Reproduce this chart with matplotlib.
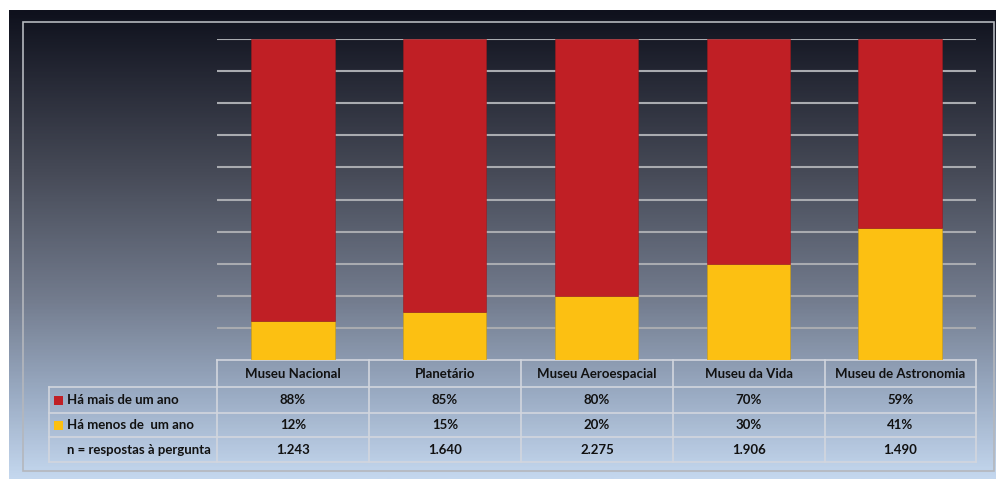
import numpy as np
import matplotlib
matplotlib.use("Agg")
import matplotlib.pyplot as plt
from matplotlib.colors import LinearSegmentedColormap
from matplotlib.patches import Rectangle
from matplotlib.lines import Line2D

categories = ["Museu Nacional", "Planetário", "Museu Aeroespacial", "Museu da Vida", "Museu de Astronomia"]
series_names = ["Há mais de um ano", "Há menos de  um ano"]
mais_de_um_ano = [88, 85, 80, 70, 59]
menos_de_um_ano = [12, 15, 20, 30, 41]
n_respostas = ["1.243", "1.640", "2.275", "1.906", "1.490"]
n_label = "n = respostas à pergunta"

RED = "#c01f25"
YEL = "#fcc012"

W, H = 996, 479
fig = plt.figure(figsize=(W / 100, H / 100), dpi=100)
fig.patch.set_facecolor("white")

def fx(x):
    return x / W

def fy(y):
    return 1 - y / H

# gradient background
bg = fig.add_axes([fx(9), 0, fx(996) - fx(9), fy(10)])
cmap = LinearSegmentedColormap.from_list(
    "bg", [(0, "#0f111d"), (0.35, "#474b58"), (0.62, "#737c8e"), (0.82, "#9aabc3"), (1.0, "#c4d7ee")])
grad = np.linspace(0, 1, 400).reshape(-1, 1)
bg.imshow(grad, aspect="auto", cmap=cmap, extent=[0, 1, 0, 1], origin="upper")
bg.set_axis_off()

# overlay axes in pixel coordinates for frame and table
ov = fig.add_axes([0, 0, 1, 1], facecolor="none")
ov.set_xlim(0, W)
ov.set_ylim(H, 0)
ov.set_axis_off()
ov.add_patch(Rectangle((23, 22), 994 - 23, 471 - 22, fill=False, edgecolor="#b4b7bd", lw=1.2))

# chart axes
ax = fig.add_axes([fx(217), fy(360), fx(976) - fx(217), fy(39) - fy(360)])
ax.set_facecolor("none")
x = np.arange(len(categories))
ax.bar(x, menos_de_um_ano, width=0.55, color=YEL, edgecolor="#c89a10", linewidth=0.4, zorder=3)
ax.bar(x, mais_de_um_ano, bottom=menos_de_um_ano, width=0.55, color=RED, edgecolor="#9a1a1e",
       linewidth=0.4, zorder=3)
ax.set_xlim(-0.5, len(categories) - 0.5)
ax.set_ylim(0, 100)
for v in range(10, 101, 10):
    ax.axhline(v, color="#a9abb0", lw=1.5, zorder=1)
for s in ax.spines.values():
    s.set_visible(False)
ax.set_xticks([])
ax.set_yticks([])

# table
col_edges = [217, 369, 521, 673, 825, 976]
row_edges = [360, 387, 413, 437, 462]
line_c = "#d2d6de"
lw = 1.2
# horizontal lines
ov.add_line(Line2D([217, 976], [row_edges[0]] * 2, color=line_c, lw=lw))
for y in row_edges[1:]:
    ov.add_line(Line2D([49, 976], [y, y], color=line_c, lw=lw))
# vertical lines
for xe in col_edges:
    ov.add_line(Line2D([xe, xe], [row_edges[0], row_edges[-1]], color=line_c, lw=lw))
ov.add_line(Line2D([49, 49], [row_edges[1], row_edges[-1]], color=line_c, lw=lw))

fp = dict(family=["Lato", "DejaVu Sans"], fontsize=9.5, fontweight="bold", color="#111111")
rows = [
    [c for c in categories],
    [f"{v}%" for v in mais_de_um_ano],
    [f"{v}%" for v in menos_de_um_ano],
    n_respostas,
]
for r, vals in enumerate(rows):
    yc = (row_edges[r] + row_edges[r + 1]) / 2
    for c, txt in enumerate(vals):
        xc = (col_edges[c] + col_edges[c + 1]) / 2
        ov.text(xc, yc, txt, ha="center", va="center", **fp)

# row labels with legend keys
for r, (name, col) in enumerate(zip(series_names, [RED, YEL])):
    yc = (row_edges[r + 1] + row_edges[r + 2]) / 2
    ov.add_patch(Rectangle((54, yc - 4.5), 9, 9, color=col, lw=0))
    ov.text(67, yc, name, ha="left", va="center", **fp)
yc = (row_edges[3] + row_edges[4]) / 2
ov.text(67, yc, n_label, ha="left", va="center", **fp)

fig.savefig("out.png", dpi=100, facecolor="white")
